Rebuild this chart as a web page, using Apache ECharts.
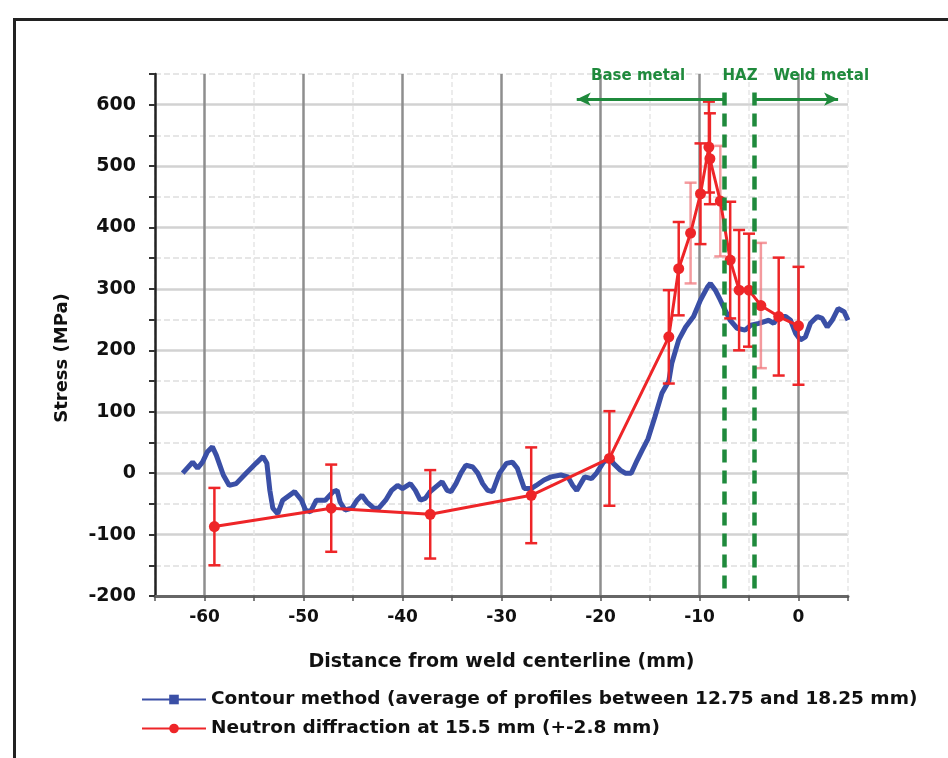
<!DOCTYPE html>
<html>
<head>
<meta charset="utf-8">
<script src="https://cdn.jsdelivr.net/npm/echarts@6/dist/echarts.min.js"></script>
<style>html,body{margin:0;padding:0;background:#fff}#c{width:948px;height:758px}</style>
</head>
<body>
<div id="c"></div>
<script>
// ---- data ----
const contourX = [-62.2,-61.2,-60.7,-60.2,-59.7,-59.2,-58.8,-58.1,-57.5,-56.8,-55.8,-54.8,-54.1,-53.7,-53.4,-53.1,-52.6,-52.1,-50.9,-50.2,-49.8,-49.3,-48.7,-47.8,-47.0,-46.6,-46.3,-45.8,-45.1,-44.6,-44.1,-43.6,-42.9,-42.4,-41.7,-41.1,-40.5,-40.0,-39.2,-38.7,-38.2,-37.7,-37.2,-36.6,-36.0,-35.5,-35.1,-34.6,-34.1,-33.6,-32.9,-32.4,-31.9,-31.4,-30.9,-30.2,-29.5,-28.9,-28.4,-28.0,-27.7,-27.0,-26.5,-25.7,-25.0,-24.0,-23.3,-22.8,-22.4,-22.0,-21.6,-20.9,-20.4,-19.7,-19.0,-18.7,-18.0,-17.5,-16.9,-16.3,-15.8,-15.2,-14.5,-13.8,-13.1,-12.8,-12.1,-11.4,-10.6,-9.9,-9.2,-8.9,-8.4,-7.9,-7.4,-6.9,-6.2,-5.4,-4.8,-4.0,-3.0,-2.5,-2.0,-1.3,-0.8,-0.3,0.2,0.7,1.2,1.9,2.4,2.9,3.4,4.0,4.6,5.0];
const contourY = [0,18,8,18,35,43,29,-3,-20,-17,0,16,27,16,-28,-57,-66,-44,-30,-44,-60,-63,-44,-44,-30,-28,-47,-60,-57,-44,-36,-47,-57,-57,-44,-28,-20,-25,-17,-28,-44,-41,-30,-22,-14,-28,-30,-17,0,13,10,0,-17,-28,-30,0,16,18,8,-11,-25,-25,-20,-11,-6,-3,-6,-20,-28,-17,-6,-9,0,18,24,16,5,0,0,21,37,56,92,130,150,179,217,238,255,282,303,309,298,282,265,249,236,233,241,244,249,244,255,255,249,228,217,222,244,255,252,238,249,268,263,249];

const neutronX = [-59,-47.2,-37.2,-27,-19.1,-13.1,-12.1,-10.9,-9.9,-9.05,-8.95,-7.9,-6.9,-6,-5,-3.8,-2,0];
const neutronY = [-87,-57,-67,-36,24,222,333,391,455,531,512,443,347,298,298,273,255,240];
const neutronErr = [63,71,72,78,77,76,76,82,82,74,74,90,95,98,92,102,96,96];

const xTickValues = [-60,-50,-40,-30,-20,-10,0];
const yTickValues = [-200,-100,0,100,200,300,400,500,600];

const hazBounds = [-7.5,-4.5];
const zoneLabels = ['Base metal','HAZ','Weld metal'];
const zoneLabelX = [-16.2,-5.9,2.3];

const seriesNames = ['Contour method (average of profiles between 12.75 and 18.25 mm)','Neutron diffraction at 15.5 mm (+-2.8 mm)'];
const xName = 'Distance from weld centerline (mm)';
const yName = 'Stress (MPa)';

// ---- chart ----
const FONT = 'DejaVu Sans';
const GREEN = '#1f8a3c';
const RED = '#ee2528';
const BLUE = '#3a4fa6';
const lightBars = new Set([7, 11, 15]);

const chart = echarts.init(document.getElementById('c'), null, {renderer:'canvas'});

const contourData = contourX.map((x,i)=>[x, contourY[i]]);
const neutronData = neutronX.map((x,i)=>[x, neutronY[i]]);
const errData = neutronX.map((x,i)=>[x, neutronY[i]-neutronErr[i], neutronY[i]+neutronErr[i]]);

const option = {
  backgroundColor:'#fff',
  animation:false,
  graphic:[{type:'rect', left:12, top:17, shape:{width:1000, height:800}, style:{fill:'none', stroke:'#222', lineWidth:3}, z:100}],
  grid:{left:155, right:100, top:74, bottom:162, containLabel:false},
  legend:{
    orient:'vertical', left:136, top:685, itemGap:10, itemWidth:64, itemHeight:12,
    data:seriesNames,
    textStyle:{fontFamily:FONT, fontSize:18.5, fontWeight:'bold', color:'#111'}
  },
  xAxis:[{
    type:'value', min:-65, max:5, interval:5,
    name:xName, nameLocation:'middle', nameGap:57,
    nameTextStyle:{fontFamily:FONT, fontSize:19, fontWeight:'bold', color:'#111'},
    axisLine:{show:true, onZero:false, lineStyle:{color:'#666', width:3}},
    axisTick:{show:true, length:5, lineStyle:{color:'#555', width:1.5}},
    axisLabel:{margin:13, fontFamily:FONT, fontSize:17, fontWeight:'bold', color:'#111',
      formatter:v=> xTickValues.includes(v) ? String(v) : ''},
    splitLine:{show:true, lineStyle:{color:['#e6e6e6','rgba(0,0,0,0)'], width:1.5, type:[5,3]}}
  },{
    type:'value', min:-65, max:5, minInterval:10, maxInterval:10, position:'bottom',
    axisLine:{show:false}, axisTick:{show:false}, axisLabel:{show:false},
    splitLine:{show:true, showMinLine:false, showMaxLine:false, lineStyle:{color:'#8e8e8e', width:2.5}}
  }],
  yAxis:[{
    type:'value', min:-200, max:650, interval:50,
    name:yName, nameLocation:'middle', nameGap:84, nameRotate:90,
    nameTextStyle:{fontFamily:FONT, fontSize:18, fontWeight:'bold', color:'#111', padding:[0,46,0,0]},
    axisLine:{show:true, onZero:false, lineStyle:{color:'#222', width:2.5}},
    axisTick:{show:true, length:6, lineStyle:{color:'#333', width:2}},
    axisLabel:{margin:19, fontFamily:FONT, fontSize:19, fontWeight:'bold', color:'#111',
      formatter:v=> yTickValues.includes(v) ? String(v) : ''},
    splitLine:{show:true, lineStyle:{color:['rgba(0,0,0,0)','#dedede'], width:1.5, type:[6,3]}}
  },{
    type:'value', min:-200, max:650, minInterval:100, maxInterval:100, position:'left',
    axisLine:{show:false}, axisTick:{show:false}, axisLabel:{show:false},
    splitLine:{show:true, showMinLine:false, showMaxLine:false, lineStyle:{color:'#d2d2d2', width:2.5}}
  }],
  series:[
    {
      name:seriesNames[0], type:'line', data:contourData, showSymbol:false, symbol:'rect', symbolSize:7,
      lineStyle:{color:BLUE, width:5}, itemStyle:{color:BLUE}, z:2
    },
    {
      name:'errbars', type:'custom', data:errData, encode:{x:0, y:[1,2]}, z:3, silent:true,
      renderItem:(params, api)=>{
        const x = api.value(0), lo = api.value(1), hi = api.value(2);
        const p1 = api.coord([x, hi]), p2 = api.coord([x, lo]);
        const w = 6;
        const col = lightBars.has(params.dataIndex) ? 'rgba(240,120,125,0.75)' : RED;
        const st = {stroke:col, lineWidth:2.5};
        return {type:'group', children:[
          {type:'line', shape:{x1:p1[0], y1:p1[1], x2:p2[0], y2:p2[1]}, style:st},
          {type:'line', shape:{x1:p1[0]-w, y1:p1[1], x2:p1[0]+w, y2:p1[1]}, style:st},
          {type:'line', shape:{x1:p2[0]-w, y1:p2[1], x2:p2[0]+w, y2:p2[1]}, style:st}
        ]};
      }
    },
    {
      name:seriesNames[1], type:'line', data:neutronData, symbol:'circle', symbolSize:11,
      lineStyle:{color:RED, width:3}, itemStyle:{color:RED}, z:4
    },
    {
      name:'annot', type:'line', data:[], z:6,
      markLine:{
        silent:true, animation:false, label:{show:false},
        data:[
          [{coord:[hazBounds[0],620], symbol:'none', lineStyle:{color:GREEN, width:4.5, type:[13,8]}},{coord:[hazBounds[0],-200], symbol:'none'}],
          [{coord:[hazBounds[1],620], symbol:'none', lineStyle:{color:GREEN, width:4.5, type:[13,8]}},{coord:[hazBounds[1],-200], symbol:'none'}],
          [{coord:[-22.4,609], symbol:'arrow', symbolSize:[10,14], lineStyle:{color:GREEN, width:3, type:'solid'}},{coord:[hazBounds[0],609], symbol:'none'}],
          [{coord:[hazBounds[1],609], symbol:'none', lineStyle:{color:GREEN, width:3, type:'solid'}},{coord:[4,609], symbol:'arrow', symbolSize:[10,14]}]
        ]
      },
      markPoint:{
        silent:true, symbol:'rect', symbolSize:0,
        label:{show:true, position:'inside', fontFamily:FONT, fontSize:15, fontWeight:'bold', color:GREEN, formatter:p=>p.name},
        data: zoneLabels.map((t,i)=>({name:t, coord:[zoneLabelX[i], 646]}))
      }
    }
  ]
};
chart.setOption(option);
</script>
</body>
</html>
